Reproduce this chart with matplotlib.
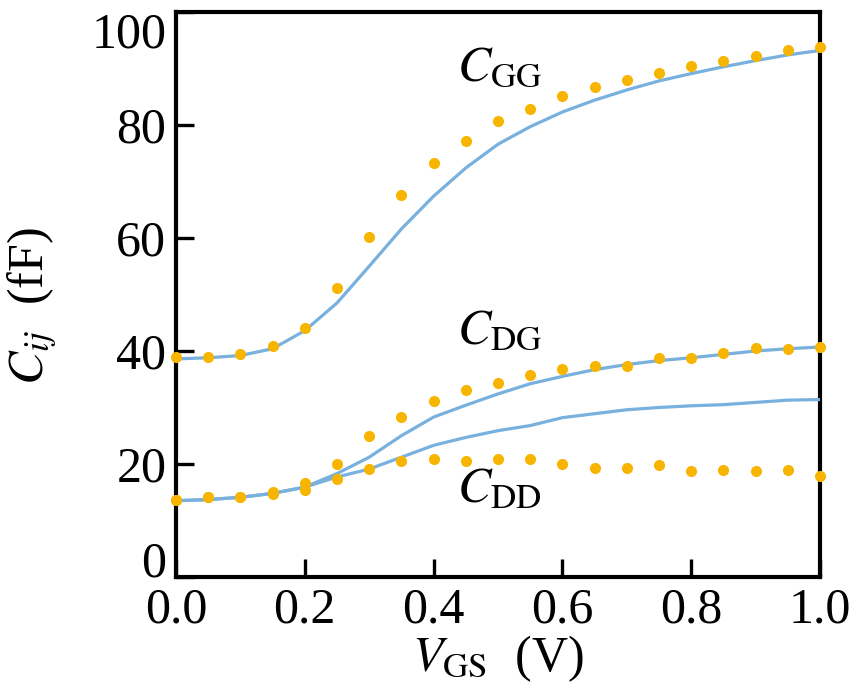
import matplotlib
matplotlib.use("Agg")
import matplotlib.pyplot as plt

plt.rcParams['font.family'] = ['Liberation Serif', 'DejaVu Serif']
plt.rcParams['mathtext.fontset'] = 'stix'

# Gate voltage sweep (V)
vgs = [0.00, 0.05, 0.10, 0.15, 0.20, 0.25, 0.30, 0.35, 0.40, 0.45, 0.50,
       0.55, 0.60, 0.65, 0.70, 0.75, 0.80, 0.85, 0.90, 0.95, 1.00]

# Measured / reference capacitances (fF), dots
cgg_pts = [38.9, 39.0, 39.4, 40.8, 44.0, 51.2, 60.2, 67.6, 73.2, 77.1, 80.7,
           82.9, 85.1, 86.7, 88.0, 89.2, 90.4, 91.3, 92.2, 93.2, 93.8]
cdg_pts = [13.7, 14.1, 14.2, 15.0, 16.7, 20.0, 24.9, 28.3, 31.1, 33.1, 34.3,
           35.8, 36.8, 37.3, 37.4, 38.8, 38.8, 39.6, 40.5, 40.3, 40.7]
cdd_pts = [13.7, 14.1, 14.2, 14.6, 15.4, 17.3, 19.1, 20.5, 20.8, 20.6, 20.8,
           20.9, 20.0, 19.3, 19.3, 19.9, 18.7, 19.0, 18.7, 18.9, 17.8]

# Model capacitances (fF), lines
cgg_fit = [38.6, 38.8, 39.2, 40.4, 43.6, 48.5, 55.0, 61.6, 67.4, 72.4, 76.6,
           79.7, 82.3, 84.4, 86.2, 87.8, 89.1, 90.3, 91.4, 92.4, 93.2]
cdg_fit = [13.5, 13.7, 14.1, 14.8, 15.9, 18.3, 21.2, 25.0, 28.3, 30.4, 32.4,
           34.2, 35.5, 36.7, 37.6, 38.3, 38.8, 39.4, 40.0, 40.4, 40.7]
cdd_fit = [13.5, 13.7, 14.1, 14.8, 15.9, 17.7, 19.1, 21.2, 23.3, 24.7, 25.9,
           26.8, 28.2, 28.9, 29.6, 30.0, 30.3, 30.5, 30.9, 31.3, 31.4]

line_color = '#78B0DE'
dot_color = '#F7B500'

fig = plt.figure(figsize=(8.51, 6.90), dpi=100)
ax = fig.add_axes([0.2068, 0.1638, 0.7568, 0.8188])

for fit in (cgg_fit, cdg_fit, cdd_fit):
    ax.plot(vgs, fit, color=line_color, lw=2.3, zorder=3)
for pts in (cgg_pts, cdg_pts, cdd_pts):
    ax.plot(vgs, pts, linestyle='none', marker='o', ms=8, color=dot_color,
            mec='none', zorder=5, clip_on=False)

ax.set_xlim(0, 1.0)
ax.set_ylim(0, 100)
ax.set_xticks([0.0, 0.2, 0.4, 0.6, 0.8, 1.0])
ax.set_xticklabels(['0.0', '0.2', '0.4', '0.6', '0.8', '1.0'])
ax.set_yticks([0, 20, 40, 60, 80, 100])
ax.set_yticklabels(['0', '20', '40', '60', '80', '100'])

for s in ax.spines.values():
    s.set_linewidth(3.0)
ax.tick_params(direction='in', length=13, width=2.4, labelsize=36, pad=7)

ylabels = ax.get_yticklabels()
ylabels[0].set_verticalalignment('baseline')
ylabels[-1].set_verticalalignment('top')

ax.set_xlabel(r'$V_{\mathrm{GS}}$  (V)', fontsize=36, labelpad=0)
ax.set_ylabel(r'$C_{ij}$  (fF)', fontsize=36)
ax.yaxis.set_label_coords(-0.182, 0.48)

ax.text(0.436, 87.9, r'$C_{\mathrm{GG}}$', fontsize=36, ha='left', va='baseline')
ax.text(0.436, 41.3, r'$C_{\mathrm{DG}}$', fontsize=36, ha='left', va='baseline')
ax.text(0.436, 13.2, r'$C_{\mathrm{DD}}$', fontsize=36, ha='left', va='baseline')

fig.savefig('out.png', dpi=100)
